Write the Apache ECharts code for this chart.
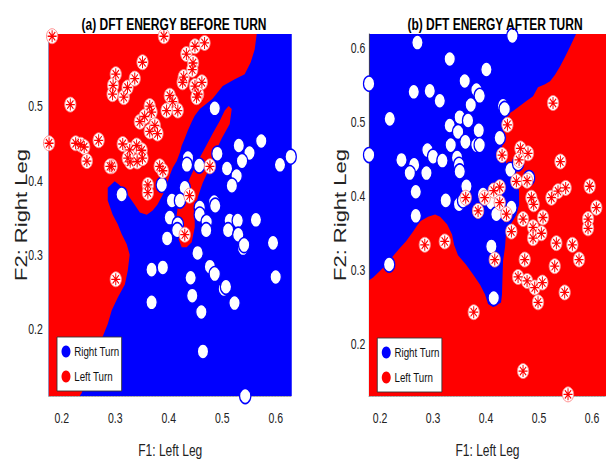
<!DOCTYPE html>
<html>
<head>
<meta charset="utf-8">
<script src="https://cdn.jsdelivr.net/npm/echarts@6/dist/echarts.min.js"></script>
<style>
  html, body { margin: 0; padding: 0; background: #fff; }
  #wrap { width: 606px; height: 463px; overflow: hidden; }
  /* 原图横向被压缩，这里按 0.75 压扁整个画布 */
  #chart { width: 808px; height: 463px; transform: scaleX(0.75); transform-origin: 0 0; }
</style>
</head>
<body>
<div id="wrap"><div id="chart"></div></div>
<script>
// 坐标轴范围与刻度
const xRangeA = [0.1757, 0.630];
const yRangeA = [0.111, 0.598];
const xRangeB = [0.179, 0.6264];
const yRangeB = [0.1307, 0.62];
const xTicks = [0.2, 0.3, 0.4, 0.5, 0.6];
const yTicksA = [0.2, 0.3, 0.4, 0.5];
const yTicksB = [0.2, 0.3, 0.4, 0.5, 0.6];

// (a) 决策区域：红色（Left Turn）多边形，背景为蓝色
const redRegionA = [
    [0.1757, 0.598], [0.5645, 0.598], [0.5607, 0.577], [0.5533, 0.560], [0.542, 0.544],
    [0.5234, 0.537], [0.501, 0.528], [0.482, 0.511], [0.458, 0.497], [0.4486, 0.488],
    [0.443, 0.480], [0.4355, 0.468], [0.430, 0.4575], [0.4243, 0.448], [0.4206, 0.438],
    [0.415, 0.427], [0.4075, 0.418], [0.402, 0.408], [0.396, 0.395], [0.389, 0.382],
    [0.379, 0.3685], [0.370, 0.3606], [0.359, 0.355], [0.346, 0.358], [0.336, 0.3685],
    [0.323, 0.382], [0.308, 0.395], [0.299, 0.400], [0.286, 0.391], [0.286, 0.374],
    [0.2953, 0.355], [0.3047, 0.342], [0.312, 0.329], [0.3215, 0.315], [0.327, 0.301],
    [0.3234, 0.2795], [0.318, 0.261], [0.305, 0.2437], [0.2935, 0.2264], [0.286, 0.208],
    [0.271, 0.181], [0.258, 0.160], [0.2467, 0.1375], [0.2374, 0.115], [0.2336, 0.111],
    [0.1757, 0.111]
];
const redFingerA = [
    [0.5178, 0.497], [0.514, 0.477], [0.499, 0.4575], [0.486, 0.4376], [0.4766, 0.418],
    [0.4636, 0.398], [0.4542, 0.378], [0.4486, 0.358], [0.4486, 0.338], [0.443, 0.318],
    [0.4336, 0.311], [0.4243, 0.311], [0.4168, 0.325], [0.4131, 0.345], [0.4168, 0.3645],
    [0.430, 0.3845], [0.4393, 0.404], [0.4523, 0.424], [0.4673, 0.444], [0.4822, 0.464],
    [0.4953, 0.481], [0.5047, 0.495], [0.5121, 0.501]
];

// (b) 决策区域
const redRegionB = [
    [0.5698, 0.62], [0.5585, 0.6027], [0.549, 0.589], [0.5396, 0.576], [0.5302, 0.565],
    [0.5208, 0.556], [0.5113, 0.552], [0.498, 0.548], [0.4887, 0.536], [0.4755, 0.529],
    [0.4642, 0.523], [0.451, 0.516], [0.4415, 0.512], [0.4358, 0.501], [0.432, 0.488],
    [0.430, 0.465], [0.4358, 0.452], [0.4415, 0.435], [0.4547, 0.423], [0.4623, 0.408],
    [0.4623, 0.389], [0.4566, 0.375], [0.4453, 0.361], [0.4377, 0.351], [0.4358, 0.332],
    [0.432, 0.313], [0.430, 0.268], [0.4283, 0.257], [0.4132, 0.251], [0.4038, 0.255],
    [0.398, 0.268], [0.3887, 0.281], [0.3755, 0.295], [0.3623, 0.308], [0.347, 0.321],
    [0.3396, 0.335], [0.3358, 0.349], [0.3264, 0.363], [0.3132, 0.373], [0.3038, 0.376],
    [0.2906, 0.373], [0.2755, 0.367], [0.268, 0.359], [0.2623, 0.353], [0.249, 0.340],
    [0.2377, 0.331], [0.2245, 0.320], [0.2113, 0.308], [0.200, 0.300], [0.1868, 0.291],
    [0.179, 0.287], [0.179, 0.1307], [0.6264, 0.1307], [0.6264, 0.62]
];

// (a) 样本点
const rightTurnA = [
    [0.486, 0.498], [0.531, 0.448], [0.573, 0.454], [0.551, 0.438], [0.537, 0.427],
    [0.491, 0.437], [0.509, 0.417], [0.527, 0.407], [0.518, 0.394], [0.457, 0.421],
    [0.436, 0.431], [0.434, 0.422], [0.430, 0.391], [0.387, 0.395], [0.312, 0.382],
    [0.608, 0.422], [0.628, 0.433], [0.406, 0.374], [0.421, 0.374], [0.458, 0.3645],
    [0.458, 0.355], [0.485, 0.372], [0.487, 0.367], [0.402, 0.351], [0.417, 0.342],
    [0.471, 0.345], [0.514, 0.347], [0.529, 0.347], [0.563, 0.348], [0.397, 0.323],
    [0.416, 0.334], [0.470, 0.334], [0.511, 0.334], [0.530, 0.328], [0.539, 0.310],
    [0.541, 0.314], [0.595, 0.317], [0.454, 0.3035], [0.368, 0.281], [0.389, 0.284],
    [0.441, 0.270], [0.477, 0.285], [0.486, 0.275], [0.600, 0.271], [0.503, 0.255],
    [0.507, 0.258], [0.444, 0.246], [0.523, 0.236], [0.368, 0.237], [0.461, 0.224],
    [0.464, 0.171], [0.543, 0.111]
];
const leftTurnA = [
    [0.182, 0.595], [0.391, 0.595], [0.1763, 0.451], [0.216, 0.503], [0.226, 0.451],
    [0.2355, 0.449], [0.242, 0.446], [0.247, 0.427], [0.269, 0.455], [0.2935, 0.420],
    [0.314, 0.450], [0.328, 0.426], [0.341, 0.4265], [0.351, 0.560], [0.301, 0.544],
    [0.296, 0.529], [0.295, 0.517], [0.316, 0.513], [0.323, 0.526], [0.3365, 0.538],
    [0.3645, 0.501], [0.368, 0.493], [0.402, 0.515], [0.4075, 0.507], [0.417, 0.495],
    [0.396, 0.495], [0.426, 0.533], [0.449, 0.528], [0.462, 0.533], [0.346, 0.480],
    [0.355, 0.487], [0.374, 0.475], [0.3645, 0.467], [0.379, 0.464], [0.327, 0.442],
    [0.340, 0.448], [0.3495, 0.4416], [0.351, 0.431], [0.290, 0.420], [0.3234, 0.431],
    [0.383, 0.420], [0.389, 0.414], [0.361, 0.395], [0.361, 0.3845], [0.477, 0.420],
    [0.439, 0.3805], [0.433, 0.571], [0.449, 0.5815], [0.467, 0.586], [0.4455, 0.559],
    [0.428, 0.540], [0.444, 0.550], [0.455, 0.517], [0.452, 0.513], [0.430, 0.328],
    [0.301, 0.268]
];

// (b) 样本点
const rightTurnB = [
    [0.2704, 0.6084], [0.4497, 0.6173], [0.3314, 0.5862], [0.4006, 0.572], [0.1792, 0.5529],
    [0.2635, 0.5418], [0.2937, 0.5431], [0.3126, 0.5298], [0.3597, 0.5564], [0.3818, 0.5444],
    [0.388, 0.5364], [0.3711, 0.524], [0.4321, 0.5231], [0.4352, 0.5187], [0.2182, 0.5053],
    [0.3314, 0.4964], [0.3503, 0.5076], [0.366, 0.5031], [0.3472, 0.4876], [0.3862, 0.4898],
    [0.4258, 0.4796], [0.3333, 0.4698], [0.361, 0.4742], [0.3818, 0.4698], [0.388, 0.4698],
    [0.2893, 0.4631], [0.1792, 0.4564], [0.2403, 0.4498], [0.300, 0.4542], [0.3176, 0.4489],
    [0.2642, 0.4431], [0.256, 0.432], [0.2874, 0.432], [0.3453, 0.4529], [0.349, 0.4431],
    [0.3503, 0.4342], [0.4459, 0.4364], [0.4604, 0.4453], [0.4811, 0.4253], [0.3629, 0.4142],
    [0.2673, 0.4067], [0.3239, 0.3951], [0.349, 0.3898], [0.3566, 0.3951], [0.3943, 0.4031],
    [0.410, 0.392], [0.4195, 0.3764], [0.4478, 0.3853], [0.2673, 0.3742], [0.217, 0.3084],
    [0.410, 0.3329], [0.4145, 0.2631]
];
const leftTurnB = [
    [0.5264, 0.5267], [0.4403, 0.4973], [0.4302, 0.4564], [0.4648, 0.4653], [0.4792, 0.4587],
    [0.4623, 0.4498], [0.5403, 0.4476], [0.4572, 0.4209], [0.4774, 0.4218], [0.5956, 0.4142],
    [0.3616, 0.3987], [0.3975, 0.3987], [0.4145, 0.4084], [0.4258, 0.4129], [0.4258, 0.392],
    [0.3849, 0.3809], [0.4384, 0.3764], [0.4855, 0.3987], [0.4899, 0.3898], [0.5233, 0.3987],
    [0.5358, 0.4076], [0.5503, 0.412], [0.6082, 0.3853], [0.4698, 0.3698], [0.5075, 0.372],
    [0.4887, 0.3587], [0.5925, 0.3698], [0.4478, 0.3529], [0.4887, 0.344], [0.5044, 0.3507],
    [0.5925, 0.3573], [0.2843, 0.3351], [0.322, 0.3396], [0.4164, 0.3151], [0.473, 0.3151],
    [0.5327, 0.3373], [0.5629, 0.3351], [0.5755, 0.3151], [0.5296, 0.3062], [0.4604, 0.2916],
    [0.4774, 0.2862], [0.4918, 0.2773], [0.5063, 0.284], [0.4981, 0.2573], [0.5484, 0.2707],
    [0.3767, 0.244], [0.4698, 0.1644], [0.5547, 0.1329]
];

const BLUE = '#0000ff';
const RED = '#ff0000';
const FONT = '"Liberation Sans", Arial, sans-serif';
// 星号标记
const STAR = 'path://M0,-1L0,1M-1,0L1,0M-0.7,-0.7L0.7,0.7M-0.7,0.7L0.7,-0.7';

document.addEventListener('DOMContentLoaded', function() {
    initChart();
});

// 区域多边形（custom 系列）
function regionSeries(polys, idx, color) {
    return {
        type: 'custom',
        xAxisIndex: idx,
        yAxisIndex: idx,
        clip: true,
        silent: true,
        z: 1,
        data: polys.map(p => p[0]),
        renderItem: function(params, api) {
            const poly = polys[params.dataIndex];
            return {
                type: 'polygon',
                shape: { points: poly.map(p => api.coord(p)) },
                style: { fill: color }
            };
        }
    };
}

// 一个子图的散点
function markerSeries(blue, red, idx) {
    return [
        {
            name: 'Right Turn', type: 'scatter', xAxisIndex: idx, yAxisIndex: idx,
            data: blue, symbol: 'circle', symbolSize: 15, clip: false, z: 3,
            itemStyle: { color: '#fff', borderColor: BLUE, borderWidth: 1.6, opacity: 1 }
        },
        {
            name: 'Left Turn', type: 'scatter', xAxisIndex: idx, yAxisIndex: idx,
            data: red, symbol: 'circle', symbolSize: 15, clip: false, z: 4,
            itemStyle: { color: '#fff', borderColor: '#ff8080', borderWidth: 1, opacity: 1 }
        },
        {
            name: 'Left Turn', type: 'scatter', xAxisIndex: idx, yAxisIndex: idx,
            data: red, symbol: STAR, symbolSize: 12, clip: false, z: 5,
            itemStyle: { color: RED, borderColor: RED, borderWidth: 1.3, opacity: 1 }
        }
    ];
}

function xAxisOf(idx, range) {
    return {
        gridIndex: idx, type: 'value', min: range[0], max: range[1],
        axisLine: { show: true, onZero: false, lineStyle: { color: '#999', type: 'dotted' } },
        axisTick: { show: false },
        splitLine: { show: false },
        axisLabel: {
            customValues: xTicks, margin: 15,
            formatter: v => v.toFixed(1),
            fontFamily: FONT, fontSize: 14, color: '#222'
        },
        name: 'F1: Left Leg', nameLocation: 'middle', nameGap: 46, nameMoveOverlap: false,
        nameTextStyle: { fontFamily: FONT, fontSize: 16, color: '#222' }
    };
}

function yAxisOf(idx, range, ticks, margin, gap) {
    return {
        gridIndex: idx, type: 'value', min: range[0], max: range[1],
        axisLine: { show: true, onZero: false, lineStyle: { color: '#444' } },
        axisTick: { show: false },
        splitLine: { show: false },
        axisLabel: {
            customValues: ticks, margin: margin,
            formatter: v => v.toFixed(1),
            fontFamily: FONT, fontSize: 14, color: '#222'
        },
        name: 'F2: Right Leg', nameLocation: 'middle', nameGap: gap, nameMoveOverlap: false,
        nameTextStyle: { fontFamily: FONT, fontSize: 22, color: '#222' }
    };
}

function legendOf(left, top) {
    return {
        left: left, top: top, orient: 'vertical',
        backgroundColor: '#fff', borderColor: '#333', borderWidth: 1,
        padding: [8, 3, 8, 6], itemGap: 12, itemWidth: 12, itemHeight: 12,
        textStyle: { fontFamily: FONT, fontSize: 13, color: '#111' },
        selectedMode: false,
        data: [
            { name: 'Right Turn', icon: 'circle', itemStyle: { color: BLUE, borderWidth: 0 } },
            { name: 'Left Turn', icon: 'circle', itemStyle: { color: RED, borderWidth: 0 } }
        ]
    };
}

function initChart() {
    const el = document.getElementById('chart');
    echarts.dispose(el);
    const chart = echarts.init(el, null, { renderer: 'svg' });

    const titleStyle = { fontFamily: FONT, fontSize: 16, fontWeight: 'bold', color: '#000' };

    // 以下坐标均为压缩前的逻辑像素（屏幕像素 / 0.75）
    const option = {
        animation: false,
        backgroundColor: '#fff',
        title: [
            { text: '(a) DFT ENERGY BEFORE TURN', left: 227, top: 11, textAlign: 'center', textStyle: titleStyle },
            { text: '(b) DFT ENERGY AFTER TURN', left: 655, top: 11, textAlign: 'center', textStyle: titleStyle }
        ],
        legend: [legendOf(76, 337), legendOf(503, 338)],
        grid: [
            { left: 65, top: 34, width: 324, height: 367, show: true, backgroundColor: BLUE, borderWidth: 0 },
            { left: 492, top: 34, width: 316, height: 367, show: true, backgroundColor: BLUE, borderWidth: 0 }
        ],
        xAxis: [xAxisOf(0, xRangeA), xAxisOf(1, xRangeB)],
        yAxis: [yAxisOf(0, yRangeA, yTicksA, 8, 26), yAxisOf(1, yRangeB, yTicksB, 5, 28)],
        series: [
            regionSeries([redRegionA, redFingerA], 0, RED),
            regionSeries([redRegionB], 1, RED)
        ].concat(markerSeries(rightTurnA, leftTurnA, 0), markerSeries(rightTurnB, leftTurnB, 1))
    };

    chart.setOption(option);

    window.addEventListener('resize', function() {
        chart.resize();
    });
}
</script>
</body>
</html>
